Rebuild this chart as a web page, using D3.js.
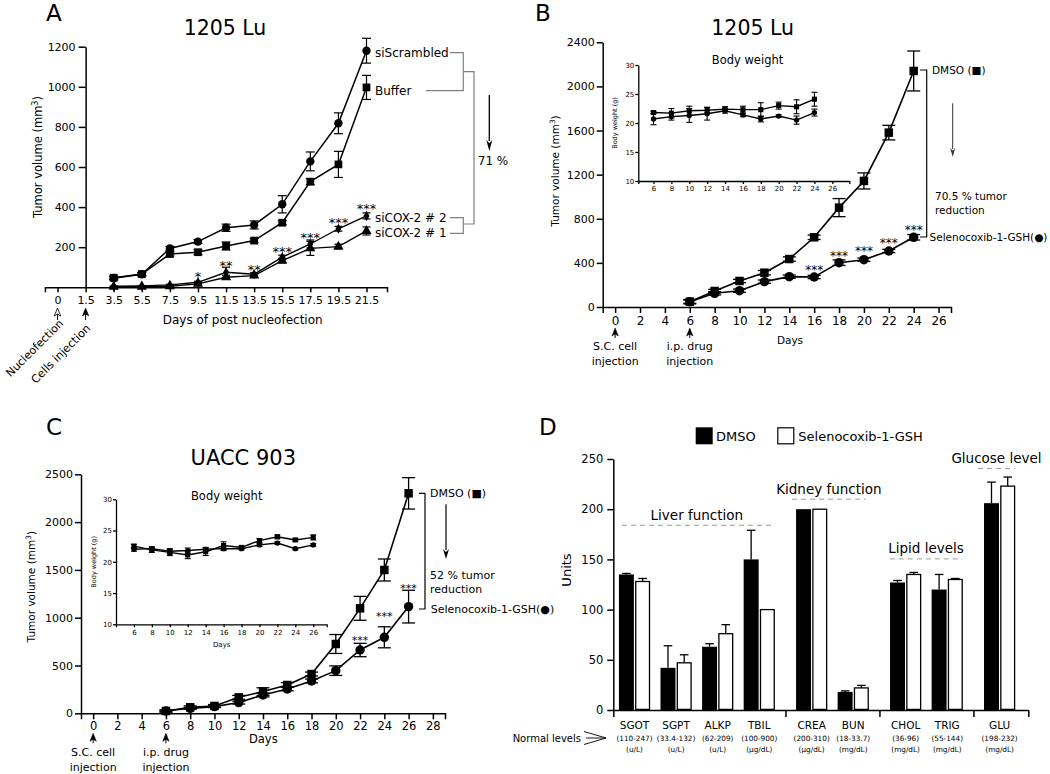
<!DOCTYPE html>
<html><head><meta charset="utf-8">
<script src="https://cdn.jsdelivr.net/npm/d3@7"></script>
<style>
body{margin:0;background:#fff;}
svg{display:block;}
text{font-variant-emoji:text;}
</style></head><body>
<svg id="fig" width="1050" height="774"></svg>
<script>
// ================= DATA =================
// Panel A (1205 Lu, siRNA)
const tickDaysA = ["0","1.5","3.5","5.5","7.5","9.5","11.5","13.5","15.5","17.5","19.5","21.5"];
const measDaysA = ["3.5","5.5","7.5","9.5","11.5","13.5","15.5","17.5","19.5","21.5"];
const siScrambled    = [45,65,194,228,297,311,414,628,818,1180];
const siScrambledErr = [8,8,10,10,18,20,43,47,52,62];
const bufferA        = [48,66,166,175,206,233,322,527,613,997];
const bufferAErr     = [8,8,10,12,20,10,10,15,65,60];
const siCox2_2       = [5,7,12,25,75,65,150,216,292,356];
const siCox2_2Err    = [2,2,3,5,25,8,10,20,12,15];
const siCox2_1       = [2,3,5,17,50,58,133,194,203,281];
const siCox2_1Err    = [2,2,2,4,10,8,12,35,12,20];
const starDaysA  = ["9.5","11.5","13.5","15.5","17.5","19.5","21.5"];
const starLevelA = [66,123,103,193,261,339,405];
const starTextA  = ["*","**","**","***","***","***","***"];
const yTicksA = [200,400,600,800,1000,1200];

// Panel B (1205 Lu, drug)
const daysB   = [6,8,10,12,14,16,18,20,22,24];
const dmsoB   = [48,145,236,311,435,632,901,1143,1581,2140];
const dmsoBErr= [20,15,15,20,20,20,82,73,66,181];
const selB    = [48,124,148,230,275,272,402,429,508,632];
const selBErr = [15,15,15,15,15,15,25,15,15,25];
const starDaysB  = [16,18,20,22,24];
const starLevelB = [357,490,532,601,722];
const xTicksB = [0,2,4,6,8,10,12,14,16,18,20,22,24,26];
const yTicksB = [0,400,800,1200,1600,2000,2400];
const bwDmsoB    = [21.8,21.7,22.1,22.2,22.4,22.3,22.3,23.0,22.8,24.1];
const bwDmsoBErr = [0.2,0.8,0.8,0.5,0.4,0.6,1.2,0.6,1.2,1.2];
const bwSelB     = [20.7,21.1,21.3,21.6,22.1,21.4,20.7,21.2,20.5,21.8];
const bwSelBErr  = [1.0,0.6,1.2,1.1,0.4,0.3,0.5,0.2,0.7,0.6];
const bwXTicksB = [6,8,10,12,14,16,18,20,22,24,26];

// Panel C (UACC 903)
const daysC   = [6,8,10,12,14,16,18,20,22,24,26];
const dmsoC   = [24,63,77,167,227,296,411,725,1098,1499,2301];
const dmsoCErr= [10,15,15,20,40,25,20,99,125,115,164];
const selC    = [24,52,70,112,192,255,338,446,662,795,1116];
const selCErr = [10,10,10,15,20,20,20,50,70,110,171];
const starDaysC  = [22,24,26];
const starLevelC = [785,1036,1332];
const xTicksC = [0,2,4,6,8,10,12,14,16,18,20,22,24,26,28];
const yTicksC = [0,500,1000,1500,2000,2500];
const bwDmsoC    = [22.5,21.9,21.5,21.1,21.6,22.6,22.3,23.4,24.0,23.5,23.9];
const bwDmsoCErr = [0.3,0.4,0.5,0.6,0.6,0.6,0.2,0.3,0.3,0.2,0.4];
const bwSelC     = [22.0,22.1,21.7,21.8,22.0,22.1,22.1,22.7,23.0,22.1,22.7];
const bwSelCErr  = [0.3,0.3,0.4,0.4,0.3,0.3,0.2,0.2,0.2,0.2,0.2];
const bwXTicksC = [6,8,10,12,14,16,18,20,22,24,26];
const bwYTicks = [10,15,20,25,30];

// Panel D (serum chemistry)
const labsD   = ["SGOT","SGPT","ALKP","TBIL","CREA","BUN","CHOL","TRIG","GLU"];
const rangeD  = ["(110-247)","(33.4-132)","(62-209)","(100-900)","(200-310)","(18-33.7)","(36-96)","(55-144)","(198-232)"];
const unitD   = ["(u/L)","(u/L)","(u/L)","(\u00b5g/dL)","(\u00b5g/dL)","(mg/dL)","(mg/dL)","(mg/dL)","(mg/dL)"];
const sectionD= [0,0,0,0,1,1,2,2,3];
const dmsoD   = [135,42,63,150,200,18,127,120,206];
const dmsoDErr= [1,22,3,29,0,1,2,15,21];
const selD    = [128,47,76,100,200,22,135,130,223];
const selDErr = [3,8,9,0,0,2.5,2,1,9];
const groupNames = ["Liver function","Kidney function","Lipid levels","Glucose level"];
const groupLevel = [184,210,150.5,240.5];
const yTicksD = [0,50,100,150,200,250];

// ================= DRAWING =================
const FONT = "DejaVu Sans, sans-serif";
const svg = d3.select("#fig").attr("font-family", FONT);
const fmt = d3.format("d");

function styleAxis(sel, fs, sw) {
  sel.attr("font-family", FONT).attr("font-size", fs);
  sel.selectAll("path.domain").attr("stroke-width", sw);
  sel.selectAll(".tick line").attr("stroke-width", sw);
  sel.selectAll(".tick text").attr("fill", "#000");
}
function text(g, x, y, s, fs, anchor="start", extra={}) {
  const t = g.append("text").attr("x", x).attr("y", y).attr("font-size", fs)
    .attr("text-anchor", anchor).attr("fill", extra.fill || "#000").text(s);
  return t;
}
function addSeries(g, xf, yf, xs, vs, es, sym, area, capW, lw, ew) {
  const y0 = yf.domain()[0];
  const pts = xs.map((d,i)=>({cx:xf(d), cy:yf(vs[i]), yt:yf(vs[i]+es[i]), yb:yf(Math.max(vs[i]-es[i], y0))}));
  g.append("path").datum(pts).attr("fill","none").attr("stroke","#000").attr("stroke-width",lw)
    .attr("d", d3.line().x(d=>d.cx).y(d=>d.cy));
  const eg = g.append("g").attr("stroke","#000").attr("stroke-width",ew);
  pts.forEach(p=>{
    eg.append("line").attr("x1",p.cx).attr("x2",p.cx).attr("y1",p.yt).attr("y2",p.yb);
    eg.append("line").attr("x1",p.cx-capW/2).attr("x2",p.cx+capW/2).attr("y1",p.yt).attr("y2",p.yt);
    eg.append("line").attr("x1",p.cx-capW/2).attr("x2",p.cx+capW/2).attr("y1",p.yb).attr("y2",p.yb);
  });
  g.append("g").selectAll("path").data(pts).enter().append("path")
    .attr("d", d3.symbol().type(sym).size(area)).attr("fill","#000")
    .attr("transform", d=>`translate(${d.cx},${d.cy})`);
}
function stars(g, xf, yf, xs, lv, txts, fs) {
  xs.forEach((d,i)=>{
    text(g, xf(d), yf(lv[i]) + 0.565*fs, txts ? txts[i] : "***", fs, "middle");
  });
}
function arrowDown(g, x, y1, y2, color, hl, hw, sw) {
  g.append("line").attr("x1",x).attr("x2",x).attr("y1",y1).attr("y2",y2-hl+1).attr("stroke",color).attr("stroke-width",sw);
  g.append("path").attr("d",`M${x},${y2} L${x-hw/2},${y2-hl} L${x},${y2-hl*0.7} L${x+hw/2},${y2-hl} Z`).attr("fill",color);
}
function arrowUp(g, x, y1, y2, hollow) {
  g.append("line").attr("x1",x).attr("x2",x).attr("y1",y1+5).attr("y2",y2).attr("stroke","#000").attr("stroke-width",1);
  g.append("path").attr("d",`M${x},${y1} L${x-3.2},${y1+8} L${x},${y1+6} L${x+3.2},${y1+8} Z`)
    .attr("fill", hollow ? "#fff" : "#000").attr("stroke","#000").attr("stroke-width", hollow ? 0.8 : 0.5);
}
function yTitle(g, x, y, fs, main, sup, tail) {
  const t = g.append("text").attr("transform",`translate(${x},${y}) rotate(-90)`).attr("text-anchor","middle").attr("font-size",fs);
  t.append("tspan").text(main);
  if (sup) {
    t.append("tspan").attr("baseline-shift","super").attr("font-size",fs*0.7).text(sup);
    t.append("tspan").text(tail);
  }
  return t;
}

// ---------- Panel A ----------
{
  const g = svg.append("g");
  const xA = d3.scaleLinear().domain([-0.45, 11.73]).range([44.9, 387]);
  const yA = d3.scaleLinear().domain([0,1200]).range([287.3, 46.7]);
  const dayA = d => xA(tickDaysA.indexOf(d));
  g.append("g").attr("transform",`translate(0,${yA(0)})`)
    .call(d3.axisBottom(xA).tickValues(d3.range(tickDaysA.length)).tickFormat(i=>tickDaysA[i]).tickSize(5).tickSizeOuter(5).tickPadding(4))
    .call(styleAxis, 11, 1.5);
  g.append("g").attr("transform",`translate(${dayA("1.5")},0)`)
    .call(d3.axisLeft(yA).tickValues(yTicksA).tickFormat(fmt).tickSize(7).tickSizeOuter(0).tickPadding(3))
    .call(styleAxis, 11, 1.5);

  addSeries(g, dayA, yA, measDaysA, siCox2_1, siCox2_1Err, d3.symbolTriangle, 45, 8, 1.4, 1.2);
  addSeries(g, dayA, yA, measDaysA, siCox2_2, siCox2_2Err, d3.symbolDiamond, 30, 8, 1.4, 1.2);
  addSeries(g, dayA, yA, measDaysA, bufferA, bufferAErr, d3.symbolSquare, 60, 9, 1.5, 1.2);
  addSeries(g, dayA, yA, measDaysA, siScrambled, siScrambledErr, d3.symbolCircle, 55, 9, 1.5, 1.2);
  stars(g, dayA, yA, starDaysA, starLevelA, starTextA, 13);

  text(g, 46, 21, "A", 23);
  text(g, 225, 35.2, "1205 Lu", 20.5, "middle");
  yTitle(g, 41.5, 157, 11.5, "Tumor volume (mm", "3", ")");
  text(g, 242.7, 323.7, "Days of post nucleofection", 12, "middle");

  text(g, 375, 57, "siScrambled", 12);
  text(g, 375, 94.5, "Buffer", 12);
  text(g, 375, 222, "siCOX-2 # 2", 12);
  text(g, 375, 236.6, "siCOX-2 # 1", 12);
  const br = g.append("g").attr("fill","none").attr("stroke","#808080").attr("stroke-width",1.2);
  br.append("path").attr("d","M450,52.7 H463.3 V90.7 H426");
  br.append("path").attr("d","M450,217.7 H463.3 V233.3 H450");
  br.append("path").attr("d","M463.3,71.7 H474 V224 H463.3");
  arrowDown(g, 489.3, 95, 151, "#000", 11, 6, 1.3);
  text(g, 493, 165, "71 %", 12, "middle");

  arrowUp(g, dayA("0"), 308, 320, true);
  arrowUp(g, dayA("1.5"), 308, 320, false);
  g.append("text").attr("transform","translate(64,324) rotate(-45)").attr("text-anchor","end").attr("font-size",11).text("Nucleofection");
  g.append("text").attr("transform","translate(91,329) rotate(-45)").attr("text-anchor","end").attr("font-size",11.2).text("Cells injection");
}

// ---------- generic tumour panel (B, C) ----------
function tumorPanel(o) {
  const g = svg.append("g");
  const x = d3.scaleLinear().domain(o.xDom).range(o.xRng);
  const y = d3.scaleLinear().domain(o.yDom).range(o.yRng);
  g.append("g").attr("transform",`translate(0,${o.yRng[0]})`)
    .call(d3.axisBottom(x).tickValues(o.xTicks).tickFormat(fmt).tickSize(6).tickSizeOuter(6).tickPadding(o.xPad))
    .call(styleAxis, o.xFs, 1.5);
  g.append("g").attr("transform",`translate(${o.xRng[0]},0)`)
    .call(d3.axisLeft(y).tickValues(o.yTicks).tickFormat(fmt).tickSize(6).tickSizeOuter(0).tickPadding(2))
    .call(styleAxis, 11, 1.5);
  addSeries(g, x, y, o.days, o.sel, o.selErr, d3.symbolCircle, 70, 13, 1.6, 1.3);
  addSeries(g, x, y, o.days, o.dmso, o.dmsoErr, d3.symbolSquare, 72, 13, 1.6, 1.3);
  stars(g, x, y, o.starDays, o.starLevel, null, o.starFs);
  arrowUp(g, x(0), o.arrY, o.arrY+10, false);
  arrowUp(g, x(6), o.arrY, o.arrY+10, false);
  text(g, x(0), o.injY, "S.C. cell", 11, "middle");
  text(g, x(0), o.injY+15, "injection", 11, "middle");
  text(g, x(6), o.injY, "i.p. drug", 11, "middle");
  text(g, x(6), o.injY+15, "injection", 11, "middle");
  return {g, x, y};
}
function insetPanel(o) {
  const g = svg.append("g");
  const x = d3.scaleLinear().domain(o.xDom).range(o.xRng);
  const y = d3.scaleLinear().domain([10,30]).range(o.yRng);
  g.append("g").attr("transform",`translate(0,${o.yRng[0]})`)
    .call(d3.axisBottom(x).tickValues(o.xTicks).tickFormat(fmt).tickSize(3).tickSizeOuter(3).tickPadding(2.5))
    .call(styleAxis, 7, 1.3);
  g.append("g").attr("transform",`translate(${o.xRng[0]},0)`)
    .call(d3.axisLeft(y).tickValues(bwYTicks).tickFormat(fmt).tickSize(3).tickSizeOuter(0).tickPadding(1))
    .call(styleAxis, 7, 1.3);
  addSeries(g, x, y, o.days, o.sel, o.selErr, d3.symbolCircle, 22, 6, 1.4, 1.1);
  addSeries(g, x, y, o.days, o.dmso, o.dmsoErr, d3.symbolSquare, 26, 6, 1.4, 1.1);
  text(g, o.titleX, o.titleY, "Body weight", 11.5, "middle");
  yTitle(g, o.labX, (o.yRng[0]+o.yRng[1])/2, 6.5, "Body weight (g)");
  return {g, x, y};
}

// ---------- Panel B ----------
{
  const P = tumorPanel({xDom:[-1,27], xRng:[602.7,951], yDom:[0,2400], yRng:[307,42.3],
    xTicks:xTicksB, yTicks:yTicksB, xFs:12, xPad:3.5, days:daysB, dmso:dmsoB, dmsoErr:dmsoBErr,
    sel:selB, selErr:selBErr, starDays:starDaysB, starLevel:starLevelB, starFs:12, arrY:328, injY:349.7});
  const g = P.g;
  text(g, 535, 21, "B", 23);
  text(g, 752.7, 35.2, "1205 Lu", 20.5, "middle");
  yTitle(g, 558.8, 171, 10.5, "Tumor volume (mm", "3", ")");
  text(g, 790, 343.8, "Days", 10.5, "middle");
  insetPanel({xDom:[4.3,27.9], xRng:[638.3,849.3], yRng:[181,65], xTicks:bwXTicksB,
    days:daysB, dmso:bwDmsoB, dmsoErr:bwDmsoBErr, sel:bwSelB, selErr:bwSelBErr,
    titleX:747.5, titleY:64.2, labX:617.3});
  text(g, 932, 74, "DMSO (\u25A0)", 10.5);
  text(g, 929.5, 240.7, "Selenocoxib-1-GSH(\u25CF)", 10.5);
  text(g, 935, 199.7, "70.5 % tumor", 10.5);
  text(g, 935, 214, "reduction", 10.5);
  g.append("path").attr("d","M920,70 H926.7 V237 H920").attr("fill","none").attr("stroke","#000").attr("stroke-width",1.2);
  arrowDown(g, 952.7, 103.3, 157, "#333", 9, 5, 1);
}

// ---------- Panel C ----------
{
  const P = tumorPanel({xDom:[-1,29], xRng:[81,445], yDom:[0,2500], yRng:[713.3,474.3],
    xTicks:xTicksC, yTicks:yTicksC, xFs:11.5, xPad:2.5, days:daysC, dmso:dmsoC, dmsoErr:dmsoCErr,
    sel:selC, selErr:selCErr, starDays:starDaysC, starLevel:starLevelC, starFs:11, arrY:733.3, injY:755.8});
  const g = P.g;
  text(g, 46, 435, "C", 23);
  text(g, 243.3, 465.4, "UACC 903", 21, "middle");
  yTitle(g, 34.5, 586.7, 10.5, "Tumor volume (mm", "3", ")");
  text(g, 263.3, 743.2, "Days", 11.5, "middle");
  insetPanel({xDom:[4,27.5], xRng:[116,326.7], yRng:[624.3,499.3], xTicks:bwXTicksC,
    days:daysC, dmso:bwDmsoC, dmsoErr:bwDmsoCErr, sel:bwSelC, selErr:bwSelCErr,
    titleX:226.7, titleY:500.2, labX:95.6});
  text(g, 221.7, 646.8, "Days", 7, "middle");
  text(g, 430, 497.3, "DMSO (\u25A0)", 11);
  text(g, 430.7, 613, "Selenocoxib-1-GSH(\u25CF)", 11);
  text(g, 430, 578.5, "52 % tumor", 11);
  text(g, 430, 592.5, "reduction", 11);
  g.append("path").attr("d","M419,493.3 H425 V609 H419").attr("fill","none").attr("stroke","#000").attr("stroke-width",1.2);
  arrowDown(g, 446, 504.3, 559, "#000", 10, 6, 1.2);
}

// ---------- Panel D ----------
{
  const g = svg.append("g");
  const gap = 0.26;
  const pos = labsD.map((d,i)=> i + sectionD[i]*gap);
  const xD = d3.scaleLinear().domain([-0.51, 9.47]).range([613.3, 1028.3]);
  const yD = d3.scaleLinear().domain([0,250]).range([710, 459]);
  const bw = 0.36;
  const seps = [];
  for (let i=1;i<labsD.length;i++) if (sectionD[i]!==sectionD[i-1]) seps.push((pos[i]+pos[i-1])/2);
  g.append("g").attr("transform",`translate(0,${yD(0)})`)
    .call(d3.axisBottom(xD).tickValues([xD.domain()[0], ...seps, xD.domain()[1]]).tickFormat("").tickSize(7).tickSizeOuter(0))
    .call(styleAxis, 10, 1.5);
  g.append("g").attr("transform",`translate(${xD.range()[0]},0)`)
    .call(d3.axisLeft(yD).tickValues(yTicksD).tickFormat(fmt).tickSize(6).tickSizeOuter(0).tickPadding(4))
    .call(styleAxis, 11.5, 1.5);
  const rows = labsD.map((d,i)=>({p:pos[i], a:dmsoD[i], ae:dmsoDErr[i], b:selD[i], be:selDErr[i]}));
  const eg = g.append("g").attr("stroke","#000").attr("stroke-width",1.3);
  rows.forEach(r=>{
    [[r.p-0.015-bw/2, r.a, r.ae],[r.p+0.015+bw/2, r.b, r.be]].forEach(([c,v,e])=>{
      if (!e) return;
      eg.append("line").attr("x1",xD(c)).attr("x2",xD(c)).attr("y1",yD(v)).attr("y2",yD(v+e));
      eg.append("line").attr("x1",xD(c)-4.3).attr("x2",xD(c)+4.3).attr("y1",yD(v+e)).attr("y2",yD(v+e));
    });
  });
  g.append("g").selectAll("rect").data(rows).enter().append("rect")
    .attr("x", d=>xD(d.p-0.015-bw)).attr("width", xD(bw)-xD(0))
    .attr("y", d=>yD(d.a)).attr("height", d=>yD(0)-yD(d.a)).attr("fill","#000");
  g.append("g").selectAll("rect").data(rows).enter().append("rect")
    .attr("x", d=>xD(d.p+0.015)+0.6).attr("width", xD(bw)-xD(0)-1.2)
    .attr("y", d=>yD(d.b)).attr("height", d=>yD(0)-yD(d.b)-0.6)
    .attr("fill","#fff").attr("stroke","#000").attr("stroke-width",1.3);
  labsD.forEach((d,i)=>{
    text(g, xD(pos[i]), 728.8, d, 10.5, "middle");
    text(g, xD(pos[i]), 740.7, rangeD[i], 7.3, "middle");
    text(g, xD(pos[i]), 751.7, unitD[i], 7.3, "middle");
  });
  text(g, 581, 741.6, "Normal levels", 10, "end");
  g.append("path").attr("d","M584,731.5 L606,738 L584,744.5 M586,738 L606,738").attr("fill","none").attr("stroke","#000").attr("stroke-width",0.9);
  const padL = [0.3,0.47,0.38,0.52], padR = [0.3,0.3,0.36,0.37];
  [0,1,2,3].forEach(s=>{
    const ps = pos.filter((p,i)=>sectionD[i]===s);
    const x1 = xD(d3.min(ps)-padL[s]), x2 = xD(d3.max(ps)+padR[s]);
    g.append("line").attr("x1",x1).attr("x2",x2).attr("y1",yD(groupLevel[s])).attr("y2",yD(groupLevel[s]))
      .attr("stroke","#999").attr("stroke-width",1).attr("stroke-dasharray","5,4");
    text(g, (x1+x2)/2, yD(groupLevel[s]) - 5.5, groupNames[s], 13.5, "middle");
  });
  text(g, 539, 435, "D", 23);
  yTitle(g, 571.4, 570, 13, "Units");
  g.append("rect").attr("x",695.7).attr("y",427.3).attr("width",17).attr("height",17).attr("fill","#000");
  text(g, 716, 441, "DMSO", 13);
  g.append("rect").attr("x",777.8).attr("y",427.8).attr("width",16).attr("height",16).attr("fill","#fff").attr("stroke","#000").attr("stroke-width",1.2);
  text(g, 798.3, 441, "Selenocoxib-1-GSH", 13);
}
</script>
</body></html>
